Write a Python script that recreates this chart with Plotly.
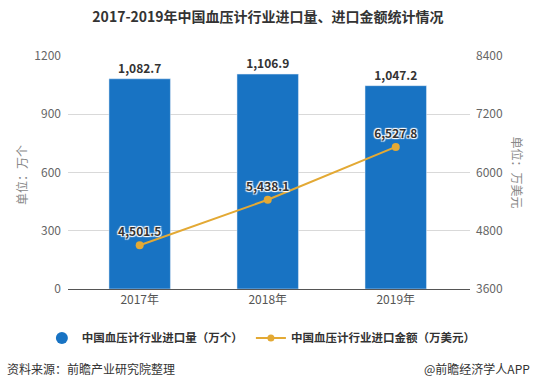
import plotly.graph_objects as go

years = ["2017年", "2018年", "2019年"]
volume = [1082.7, 1106.9, 1047.2]
amount = [4501.5, 5438.1, 6527.8]
vol_labels = ["1,082.7", "1,106.9", "1,047.2"]
amt_labels = ["4,501.5", "5,438.1", "6,527.8"]
left_ticks = [0, 300, 600, 900, 1200]
right_ticks = [3600, 4800, 6000, 7200, 8400]

BLUE = "#1873C3"
GOLD = "#E3A934"
FONT = "Noto Sans CJK SC"

fig = go.Figure()
fig.add_trace(go.Bar(
    x=years, y=volume, marker_color=BLUE, width=0.48,
    text=vol_labels, textposition="outside", cliponaxis=False,
    textfont=dict(size=12, color="#333333", family=FONT, weight="bold"),
    showlegend=False, yaxis="y"))
fig.add_trace(go.Scatter(
    x=years, y=amount, mode="lines+markers+text", yaxis="y2",
    line=dict(color=GOLD, width=2), marker=dict(color=GOLD, size=8),
    text=amt_labels, textposition="top center",
    textfont=dict(size=12, color="#333333", family=FONT, weight="bold",
                  shadow="1px 1px 1px white, -1px -1px 1px white, 1px -1px 1px white, -1px 1px 1px white"),
    showlegend=False))
# legend entries
fig.add_trace(go.Scatter(x=[None], y=[None], mode="markers",
    marker=dict(color=BLUE, size=12, symbol="circle"),
    name="中国血压计行业进口量（万个）", legend="legend"))
fig.add_trace(go.Scatter(x=[None], y=[None], mode="lines+markers", yaxis="y2",
    line=dict(color=GOLD, width=2), marker=dict(color=GOLD, size=7),
    name="中国血压计行业进口金额（万美元）", legend="legend2"))

legend_font = dict(size=11.5, color="#333333", family=FONT, weight="bold")
axis_title_font = dict(size=12, color="#888888", family=FONT)

fig.update_layout(
    width=536, height=391,
    margin=dict(l=68, r=66, t=56, b=102),
    paper_bgcolor="white", plot_bgcolor="white",
    font=dict(family=FONT, size=12, color="#666666"),
    title=dict(text="<b>2017-2019年中国血压计行业进口量、进口金额统计情况</b>",
               x=0.5, xanchor="center", y=0.955, yanchor="middle",
               font=dict(size=14, color="#333333", family=FONT)),
    xaxis=dict(range=[-0.56, 2.58], showline=True, linecolor="#555555",
               linewidth=1, ticks="", tickfont=dict(size=12, color="#555555"),
               showgrid=False, automargin=False),
    yaxis=dict(range=[0, 1200], tickvals=left_ticks, showgrid=True,
               gridcolor="#D9D9D9", zeroline=False, ticks="", automargin=False,
               tickfont=dict(size=12, color="#666666"), ticklabelstandoff=6),
    yaxis2=dict(range=[3600, 8400], tickvals=right_ticks, overlaying="y",
                side="right", showgrid=False, zeroline=False, ticks="", automargin=False,
                tickfont=dict(size=12, color="#666666"), ticklabelstandoff=5),
    legend=dict(orientation="h", x=-0.065, xanchor="left", y=-0.21, yanchor="middle",
                font=legend_font, itemwidth=30),
    legend2=dict(orientation="h", x=0.455, xanchor="left", y=-0.21, yanchor="middle",
                 font=legend_font, itemwidth=30),
    annotations=[
        dict(text="单位：万个", xref="paper", yref="paper", x=-0.114, y=0.49,
             xanchor="center", yanchor="middle", textangle=-90, showarrow=False,
             font=axis_title_font),
        dict(text="单位：万美元", xref="paper", yref="paper", x=1.117, y=0.50,
             xanchor="center", yanchor="middle", textangle=90, showarrow=False,
             font=axis_title_font),
        dict(text="资料来源：前瞻产业研究院整理", xref="paper", yref="paper",
             x=-0.157, y=-0.343, xanchor="left", yanchor="middle", showarrow=False,
             font=dict(size=12, color="#333333", family=FONT)),
        dict(text="@前瞻经济学人APP", xref="paper", yref="paper",
             x=1.155, y=-0.343, xanchor="right", yanchor="middle", showarrow=False,
             font=dict(size=12, color="#333333", family=FONT)),
    ],
)

fig.write_html("out.html", config={"displayModeBar": False},
               post_script="document.body.style.margin='0';")
